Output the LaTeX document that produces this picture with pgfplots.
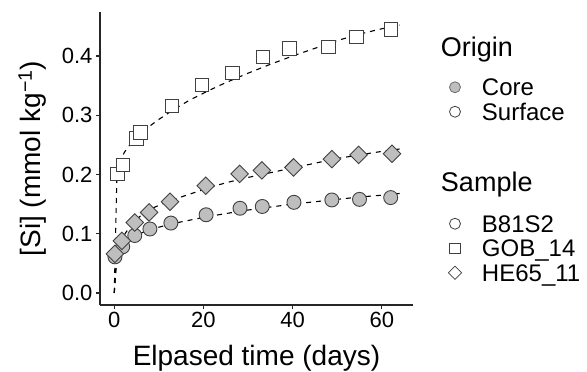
\documentclass[border=0pt]{standalone}
\usepackage{fontspec}
\setmainfont{Liberation Sans}
\usepackage{pgfplots}
\pgfplotsset{compat=1.18}
\definecolor{fillg}{HTML}{BEBEBE}
\definecolor{edge}{HTML}{404040}
\newcommand\ls{\rule[-5pt]{0pt}{24.5pt}}
\begin{document}
\begin{tikzpicture}
\begin{axis}[
  scale only axis, width=313pt, height=293pt,
  xmin=-3.2, xmax=67, ymin=-0.0203, ymax=0.4743,
  axis x line*=bottom, axis y line*=left,
  axis line style={line width=1.1pt, black!85},
  tick align=outside, major tick length=4pt,
  tick style={line width=1.1pt, black!85},
  xtick={0,20,40,60}, ytick={0,0.1,0.2,0.3,0.4},
  yticklabel style={/pgf/number format/.cd, fixed, fixed zerofill, precision=1},
  /pgf/number format/assume math mode=true,
  ticklabel style={font=\fontsize{22}{22}\selectfont, black},
  xlabel={Elpased time (days)},
  ylabel={[Si] (mmol kg\textsuperscript{−1})},
  label style={font=\fontsize{28}{28}\selectfont},
  xlabel style={at={(axis description cs:0.5,-0.2048)}, anchor=base, inner sep=0pt},
  ylabel style={at={(axis description cs:-0.1885,0.5)}, anchor=base, inner sep=0pt},
  legend cell align=left,
  legend style={draw=none, fill=none, at={(axis description cs:1.1118,0.9164)}, anchor=north west,
    inner sep=0pt, outer sep=0pt, row sep=0pt, column sep=20pt,
    cells={anchor=west}, nodes={inner sep=0pt, text depth={}},
    font=\fontsize{24}{24}\selectfont},
  legend image code/.code={\path[draw=none, fill=none] (-7pt,-7pt) rectangle (7pt,7pt); \draw[#1] plot coordinates {(0pt,1.5pt)};},
]
% fitted curves
\addplot[forget plot, black, line width=1.1pt, dash pattern=on 5pt off 5pt] coordinates {
(0,0) (0.63,0.065) (1.3,0.075) (2.5,0.086) (4,0.094) (6,0.101) (8,0.107) (10,0.111) (13,0.117) (17,0.123) (21,0.129) (25,0.134) (30,0.140) (35,0.145) (40,0.150) (45,0.154) (50,0.158) (55,0.162) (60,0.165) (64,0.168)};
\addplot[forget plot, black, line width=1.1pt, dash pattern=on 5pt off 5pt] coordinates {
(0,0) (0.63,0.21) (1.3,0.225) (2.5,0.24) (4,0.255) (6,0.27) (8,0.282) (10,0.293) (13,0.308) (17,0.326) (21,0.341) (25,0.355) (30,0.371) (35,0.386) (40,0.400) (45,0.413) (50,0.426) (55,0.437) (60,0.446) (64,0.452)};
\addplot[forget plot, black, line width=1.1pt, dash pattern=on 5pt off 5pt] coordinates {
(0,0) (0.63,0.072) (1.3,0.085) (2.5,0.101) (4,0.117) (6,0.131) (8,0.141) (10,0.148) (13,0.157) (17,0.167) (21,0.177) (25,0.186) (30,0.195) (35,0.203) (40,0.211) (45,0.219) (50,0.227) (55,0.233) (60,0.239) (64,0.243)};
% B81S2 (core, circles)
\addplot[forget plot, only marks, mark=*, mark size=7pt, mark options={fill=fillg, draw=edge, line width=0.9pt}] coordinates {
(0.15,0.061) (1.9,0.078) (4.6,0.097) (8.0,0.108) (12.7,0.118) (20.6,0.132) (28.2,0.143) (33.2,0.146) (40.3,0.153) (48.8,0.157) (55.0,0.158) (62.0,0.161)};
% GOB_14 (surface, squares)
\addplot[forget plot, only marks, mark=square*, mark size=6.7pt, mark options={fill=white, draw=edge, line width=0.9pt}] coordinates {
(0.67,0.201) (1.9,0.216) (5.0,0.261) (5.9,0.271) (12.9,0.316) (19.6,0.351) (26.5,0.371) (33.3,0.398) (39.3,0.413) (48.0,0.415) (54.3,0.432) (62.0,0.445)};
% HE65_11 (core, diamonds)
\addplot[forget plot, only marks, mark=square*, mark size=6.2pt, mark options={rotate=45, fill=fillg, draw=edge, line width=0.9pt}] coordinates {
(0.15,0.066) (1.7,0.088) (4.6,0.119) (7.8,0.136) (12.5,0.154) (20.5,0.181) (28.1,0.201) (33.1,0.207) (40.2,0.212) (48.8,0.226) (54.8,0.233) (62.3,0.235)};
% legend
\addlegendimage{empty legend}
\addlegendentry{\hspace*{-41pt}\fontsize{27}{27}\selectfont\rule[-19.5pt]{0pt}{40pt}Origin}
\addlegendimage{mark=*, mark size=5.5pt, mark options={fill=fillg, draw=gray!85!black, line width=0.8pt}}
\addlegendentry{\ls Core}
\addlegendimage{mark=*, mark size=5.5pt, mark options={fill=white, draw=edge, line width=0.8pt}}
\addlegendentry{\ls Surface}
\addlegendimage{empty legend}
\addlegendentry{\hspace*{-41pt}\fontsize{27}{27}\selectfont\rule[-21.5pt]{0pt}{87.5pt}Sample}
\addlegendimage{mark=*, mark size=5.5pt, mark options={fill=white, draw=edge, line width=0.8pt}}
\addlegendentry{\ls B81S2}
\addlegendimage{mark=square*, mark size=5.2pt, mark options={fill=white, draw=edge, line width=0.8pt}}
\addlegendentry{\ls GOB\_14}
\addlegendimage{mark=square*, mark size=4.7pt, mark options={rotate=45, fill=white, draw=edge, line width=0.8pt}}
\addlegendentry{\ls HE65\_11}
\end{axis}
\pgfresetboundingbox
\path[use as bounding box] (current axis.south west) ++(-100pt,-67pt) rectangle ++(587pt,372pt);
\end{tikzpicture}
\end{document}
